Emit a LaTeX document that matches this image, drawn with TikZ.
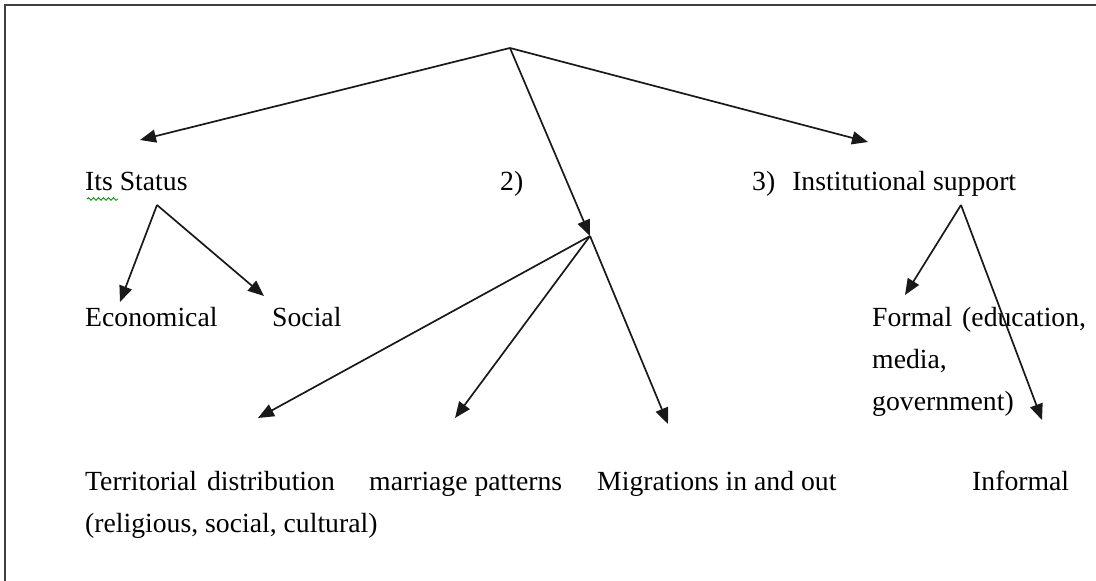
\documentclass[tikz,border=0pt]{standalone}
\usepackage{fontspec}
\setmainfont{Liberation Serif}
\usetikzlibrary{arrows.meta,decorations.pathmorphing}
\begin{document}
\begin{tikzpicture}[x=1pt,y=-1pt,
  lbl/.style={anchor=base west,inner sep=0pt,font=\fontsize{27.7}{27.7}\selectfont,text=black},
  conn/.style={line width=1.7pt,draw=black!90,-{Triangle[length=16pt,width=13pt]}},
  frame/.style={line width=1.6pt,draw=black!75}]
\useasboundingbox (0,0) rectangle (1096,581);
\draw[frame] (5,600) -- (5,5) -- (1100,5);

% branching points
\coordinate (top)  at (510,48);
\coordinate (st)   at (157,205);
\coordinate (mid)  at (590,236);
\coordinate (inst) at (961,205);

% arrow targets
\coordinate (tStatus) at (140,140);
\coordinate (tInst)   at (868,142);
\coordinate (tEco)    at (120,302);
\coordinate (tSoc)    at (264,296);
\coordinate (tTer)    at (258,418);
\coordinate (tMar)    at (455,418);
\coordinate (tMig)    at (668,424);
\coordinate (tFor)    at (905,295);
\coordinate (tInf)    at (1042,420);

% labels
\node[lbl] (status) at (85,190) {Its Status};
\node[lbl] (two)    at (500,190) {2)};
\node[lbl] (three)  at (752,190) {3)\hspace{17pt}Institutional support};
\node[lbl] (eco)    at (85,326) {Economical};
\node[lbl] (soc)    at (272,326) {Social};
\node[lbl] (for1)   at (872,326) {Formal\hspace{10pt}(education,};
\node[lbl] (for2)   at (872,368) {media,};
\node[lbl] (for3)   at (872,410) {government)};
\node[lbl] (ter1)   at (85,490) {Territorial\hspace{10pt}distribution};
\node[lbl] (ter2)   at (85,532) {(religious, social, cultural)};
\node[lbl] (mar)    at (369,490) {marriage patterns};
\node[lbl] (mig)    at (597,490) {Migrations in and out};
\node[lbl] (inf)    at (972,490) {Informal};

% spelling mark under "Its"
\draw[green!60!black,line width=0.9pt,decorate,
  decoration={snake,amplitude=1.3pt,segment length=5pt}] (87,199) -- (118,199);

% connectors
\draw[conn] (top) -- (tStatus);
\draw[conn] (top) -- (tInst);
\draw[conn] (top) -- (mid);
\draw[conn] (mid) -- (tTer);
\draw[conn] (mid) -- (tMar);
\draw[conn] (mid) -- (tMig);
\draw[conn] (st) -- (tEco);
\draw[conn] (st) -- (tSoc);
\draw[conn] (inst) -- (tFor);
\draw[conn] (inst) -- (tInf);
\end{tikzpicture}
\end{document}
